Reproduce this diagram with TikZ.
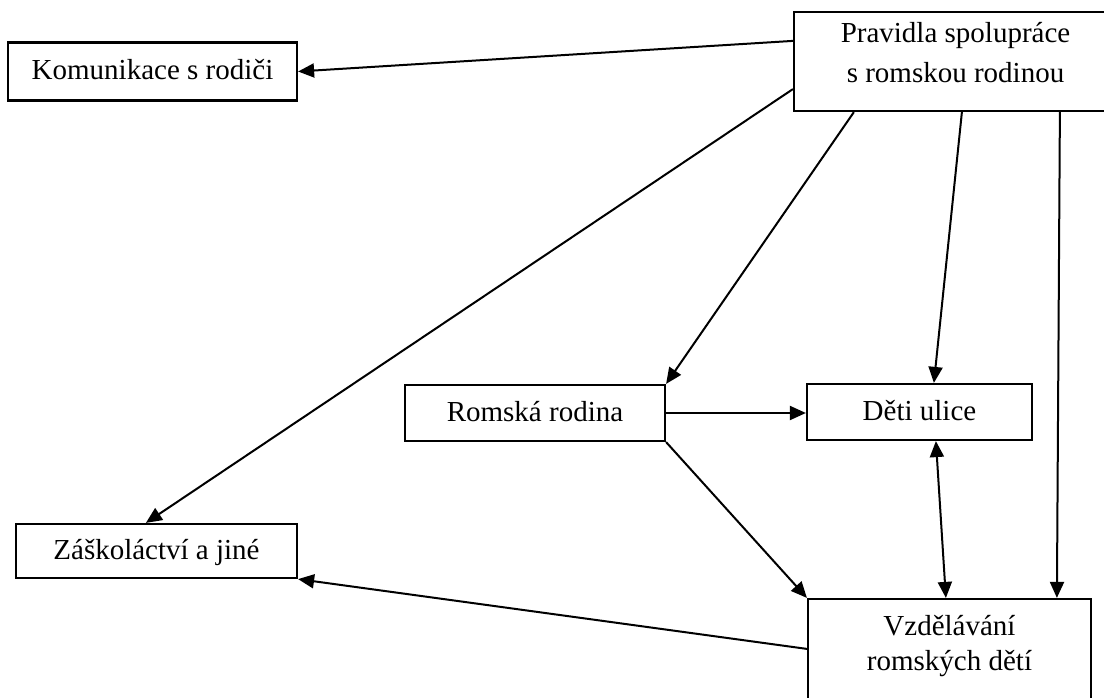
\documentclass[tikz,border=0pt]{standalone}
\usepackage{fontspec}
\setmainfont{Liberation Serif}
\usetikzlibrary{arrows.meta,calc}
\tikzset{
  box/.style={draw, line width=2.2pt, inner sep=0pt},
  words/.style={inner sep=0pt, font=\fontsize{29}{40}\selectfont},
  line/.style={words, text height=21pt, text depth=4pt},
  link/.style={line width=2pt, -{Triangle[length=16pt,width=14pt]}},
  both/.style={line width=2pt, {Triangle[length=16pt,width=14pt]}-{Triangle[length=16pt,width=14pt]}}
}
\begin{document}
\begin{tikzpicture}[x=1pt,y=-1pt]
  \useasboundingbox (0,0) rectangle (1104,698);
  \clip (0,0) rectangle (1104,698);
  \fill[white] (0,0) rectangle (1104,698);

  % boxes with one line of text
  \node[box, line, minimum width=289pt, minimum height=58pt] (kom) at (152.5,71.5) {Komunikace s rodiči};
  \node[box, line, minimum width=260pt, minimum height=56pt] (rom) at (535,413) {Romská rodina};
  \node[box, line, minimum width=225pt, minimum height=56pt] (deti) at (919.5,412) {Děti ulice};
  \node[box, line, minimum width=281pt, minimum height=54pt] (zas) at (156.5,551) {Záškoláctví a jiné};

  % boxes with two lines of text
  \node[box, minimum width=323pt, minimum height=99pt] (prav) at (955.5,61.5) {};
  \node[words, anchor=base] (prav1) at (955.5,43) {Pravidla spolupráce};
  \node[words, anchor=base] (prav2) at (955.5,83) {s romskou rodinou};

  \node[box, minimum width=283pt, minimum height=102pt] (vzd) at (949.5,650) {};
  \node[words, anchor=base] (vzd1) at (949.5,635) {Vzdělávání};
  \node[words, anchor=base] (vzd2) at (949.5,670) {romských dětí};

  % connectors
  \draw[link] ($(prav.north west)+(0,30)$) -- (kom.east);
  \draw[link] ($(prav.south west)+(0,-23)$) -- ($(zas.north west)+(131,0)$);
  \draw[link] ($(prav.south west)+(61,0)$) -- (rom.north east);
  \draw[link] ($(prav.south west)+(169,0)$) -- ($(deti.north west)+(128,0)$);
  \draw[link] ($(prav.south west)+(267,0)$) -- ($(vzd.north west)+(250,0)$);
  \draw[link] (rom.east) -- (rom.east -| deti.west);
  \draw[link] (rom.south east) -- (vzd.north west);
  \draw[both] ($(deti.south west)+(130,0)$) -- ($(vzd.north west)+(139,0)$);
  \draw[link] ($(vzd.north west)+(0,51)$) -- (zas.south east);
\end{tikzpicture}
\end{document}
